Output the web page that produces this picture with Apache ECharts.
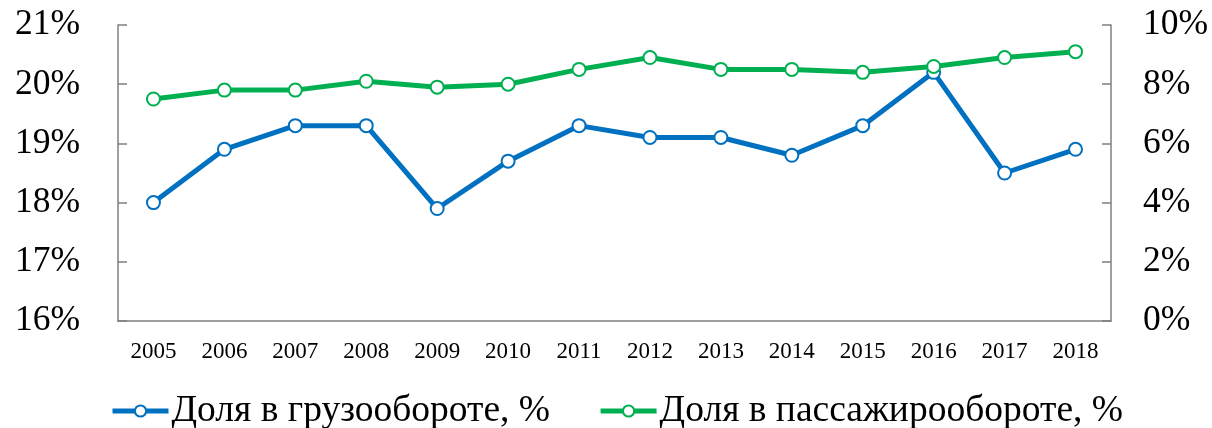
<!DOCTYPE html>
<html>
<head>
<meta charset="utf-8">
<script src="https://cdn.jsdelivr.net/npm/echarts@6/dist/echarts.min.js"></script>
<style>
  html, body { margin: 0; padding: 0; background: #fff; }
  #chart { width: 1212px; height: 428px; }
</style>
</head>
<body>
<div id="chart"></div>
<script>
// data
var years = ['2005', '2006', '2007', '2008', '2009', '2010', '2011', '2012', '2013', '2014', '2015', '2016', '2017', '2018']
var cargoShare = [18.0, 18.9, 19.3, 19.3, 17.9, 18.7, 19.3, 19.1, 19.1, 18.8, 19.3, 20.2, 18.5, 18.9]
var passengerShare = [7.5, 7.8, 7.8, 8.1, 7.9, 8.0, 8.5, 8.9, 8.5, 8.5, 8.4, 8.6, 8.9, 9.1]
var cargoName = 'Доля в грузообороте, %'
var passengerName = 'Доля в пассажирообороте, %'

var font = '"Liberation Serif", "Times New Roman", serif'
var axisGray = '#7f7f7f'

var myChart = echarts.init(document.getElementById('chart'))
myChart.setOption({
  animation: false,
  textStyle: { fontFamily: font, color: '#000' },
  grid: { left: 118, right: 101, top: 25, bottom: 107 },
  legend: {
    top: 387,
    left: 105,
    itemWidth: 56,
    itemHeight: 14,
    itemGap: 48,
    lineStyle: { width: 5 },
    textStyle: { fontFamily: font, fontSize: 37.5, color: '#000', padding: [0, 0, 0, -2] },
    data: [cargoName, passengerName]
  },
  xAxis: {
    type: 'category',
    data: years,
    boundaryGap: true,
    axisLine: { lineStyle: { color: axisGray, width: 1.5 } },
    axisTick: { inside: false, length: 7, lineStyle: { color: axisGray, width: 1.5 } },
    axisLabel: { fontFamily: font, fontSize: 23, color: '#000', margin: 19 },
    splitLine: { show: false }
  },
  yAxis: [
    {
      type: 'value',
      min: 16,
      max: 21,
      interval: 1,
      axisLine: { show: true, lineStyle: { color: axisGray, width: 1.5 } },
      axisTick: { show: true, inside: true, length: 9, lineStyle: { color: axisGray, width: 1.5 } },
      axisLabel: { fontFamily: font, fontSize: 35.5, color: '#000', margin: 38, formatter: '{value}%' },
      splitLine: { show: false }
    },
    {
      type: 'value',
      min: 0,
      max: 10,
      interval: 2,
      position: 'right',
      axisLine: { show: true, lineStyle: { color: axisGray, width: 1.5 } },
      axisTick: { show: true, inside: true, length: 9, lineStyle: { color: axisGray, width: 1.5 } },
      axisLabel: { fontFamily: font, fontSize: 35.5, color: '#000', margin: 32, formatter: '{value}%' },
      splitLine: { show: false }
    }
  ],
  series: [
    {
      name: cargoName,
      type: 'line',
      yAxisIndex: 0,
      data: cargoShare,
      symbol: 'circle',
      symbolSize: 13,
      lineStyle: { color: '#0070C0', width: 5 },
      itemStyle: { color: '#fff', borderColor: '#0070C0', borderWidth: 2 }
    },
    {
      name: passengerName,
      type: 'line',
      yAxisIndex: 1,
      data: passengerShare,
      symbol: 'circle',
      symbolSize: 13,
      lineStyle: { color: '#00B050', width: 5 },
      itemStyle: { color: '#fff', borderColor: '#00B050', borderWidth: 2 }
    }
  ]
})
</script>
</body>
</html>
